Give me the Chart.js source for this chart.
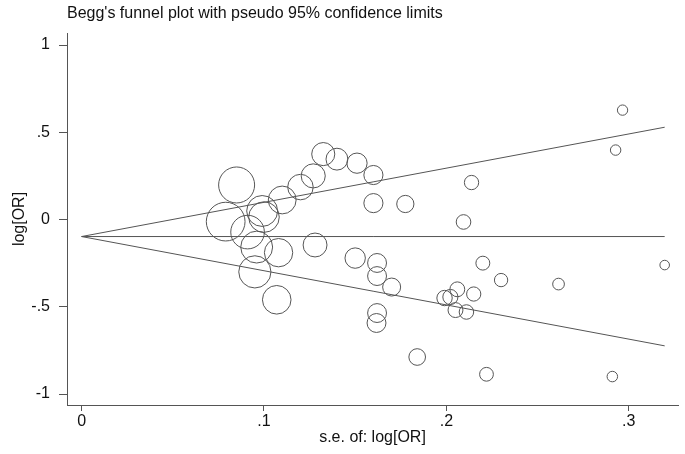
<!DOCTYPE html>
<html>
<head>
<meta charset="utf-8">
<script src="https://cdn.jsdelivr.net/npm/chart.js@4/dist/chart.umd.min.js"></script>
<style>
  html, body { margin: 0; padding: 0; background: #fff; }
  #wrap { width: 685px; height: 454px; }
</style>
</head>
<body>
<div id="wrap"><canvas id="funnel" width="685" height="454"></canvas></div>
<script>
// ── Data ────────────────────────────────────────────────────────────────────
// standard error of log[OR] per study
const seValues = [
  0.085, 0.079, 0.091, 0.099, 0.100, 0.096, 0.108, 0.095, 0.107, 0.110,
  0.120, 0.127, 0.1325, 0.140, 0.151, 0.160, 0.160, 0.1775, 0.128, 0.150,
  0.162, 0.162, 0.170, 0.162, 0.1617, 0.184, 0.2138, 0.2094, 0.220, 0.230,
  0.199, 0.2022, 0.206, 0.215, 0.205, 0.211, 0.222, 0.2966, 0.2928, 0.2615,
  0.3197, 0.291
];
// log[OR] per study
const logOrValues = [
  0.198, -0.012, -0.072, 0.049, 0.014, -0.158, -0.190, -0.300, -0.460, 0.112,
  0.186, 0.250, 0.375, 0.346, 0.323, 0.255, 0.094, 0.089, -0.146, -0.221,
  -0.249, -0.324, -0.387, -0.536, -0.593, -0.788, 0.212, -0.014, -0.250, -0.347,
  -0.450, -0.444, -0.400, -0.427, -0.519, -0.530, -0.887, 0.627, 0.398, -0.370,
  -0.261, -0.900
];

// funnel lines: pooled estimate and pseudo 95% limits at se = 0 and se = max
const funnelSe    = [0, 0.3197];
const pooledLine  = [-0.0975, -0.0975];
const upperLimit  = [-0.0975, 0.529];
const lowerLimit  = [-0.0975, -0.724];

// axis ticks
const xTicks = [0, 0.1, 0.2, 0.3];
const yTicks = [-1, -0.5, 0, 0.5, 1];

// ── Helpers ─────────────────────────────────────────────────────────────────
// Stata-style tick labels: ".5", "-.5", "0"
function stataLabel(v) {
  if (v === 0) return "0";
  const s = String(Math.round(v * 100) / 100);
  return s.replace(/^0\./, ".").replace(/^-0\./, "-.");
}
const pair = (xs, ys) => xs.map((x, i) => ({ x: x, y: ys[i] }));

const INK  = "#111";
const LINE = "#555";
const FONT = "'Liberation Sans', Arial, sans-serif";

const lineStyle = {
  type: "line",
  borderColor: LINE,
  borderWidth: 1,
  pointRadius: 0,
  fill: false,
  tension: 0,
};

// ── Chart ───────────────────────────────────────────────────────────────────
new Chart(document.getElementById("funnel"), {
  type: "scatter",
  data: {
    datasets: [
      {
        data: pair(seValues, logOrValues),
        pointStyle: "circle",
        // circle size weighted by study precision, as in metafunnel
        pointRadius: (c) => c.raw ? 1.53 / c.raw.x : 0,
        pointHoverRadius: (c) => c.raw ? 1.53 / c.raw.x : 0,
        backgroundColor: "rgba(0,0,0,0)",
        borderColor: LINE,
        borderWidth: 1,
      },
      Object.assign({ data: pair(funnelSe, pooledLine) }, lineStyle),
      Object.assign({ data: pair(funnelSe, upperLimit) }, lineStyle),
      Object.assign({ data: pair(funnelSe, lowerLimit) }, lineStyle),
    ],
  },
  options: {
    responsive: false,
    animation: false,
    layout: { autoPadding: false, padding: { left: 0, right: 7, top: 0, bottom: 0 } },
    plugins: {
      legend: { display: false },
      tooltip: { enabled: false },
      title: {
        display: true,
        text: "Begg's funnel plot with pseudo 95% confidence limits",
        align: "start",
        fullSize: false,
        color: INK,
        font: { family: FONT, size: 16, weight: "normal" },
        padding: { top: 4, bottom: 9.8 },
      },
    },
    scales: {
      x: {
        type: "linear",
        min: -0.008,
        max: 0.327,
        afterBuildTicks: (s) => { s.ticks = xTicks.map((v) => ({ value: v })); },
        afterFit: (s) => { s.height = 49; s.paddingLeft = 0; s.paddingRight = 0; },
        border: { display: true, color: LINE, width: 1 },
        grid: { drawOnChartArea: false, drawTicks: true, tickLength: 6, color: LINE },
        ticks: {
          color: INK,
          padding: 1,
          maxRotation: 0,
          font: { family: FONT, size: 16 },
          callback: (v) => stataLabel(v),
        },
        title: {
          display: true,
          text: "s.e. of: log[OR]",
          color: INK,
          padding: { top: 0, bottom: 7 },
          font: { family: FONT, size: 16 },
        },
      },
      y: {
        type: "linear",
        min: -1.063,
        max: 1.069,
        afterBuildTicks: (s) => { s.ticks = yTicks.map((v) => ({ value: v })); },
        afterFit: (s) => { s.width = 67; s.paddingTop = 0; s.paddingBottom = 0; },
        border: { display: true, color: LINE, width: 1 },
        grid: { drawOnChartArea: false, drawTicks: true, tickLength: 8, color: LINE },
        ticks: {
          color: INK,
          padding: 9,
          font: { family: FONT, size: 16 },
          callback: (v) => stataLabel(v),
        },
        title: {
          display: true,
          text: "log[OR]",
          color: INK,
          padding: { top: 10, bottom: 0 },
          font: { family: FONT, size: 16 },
        },
      },
    },
  },
});
</script>
</body>
</html>
